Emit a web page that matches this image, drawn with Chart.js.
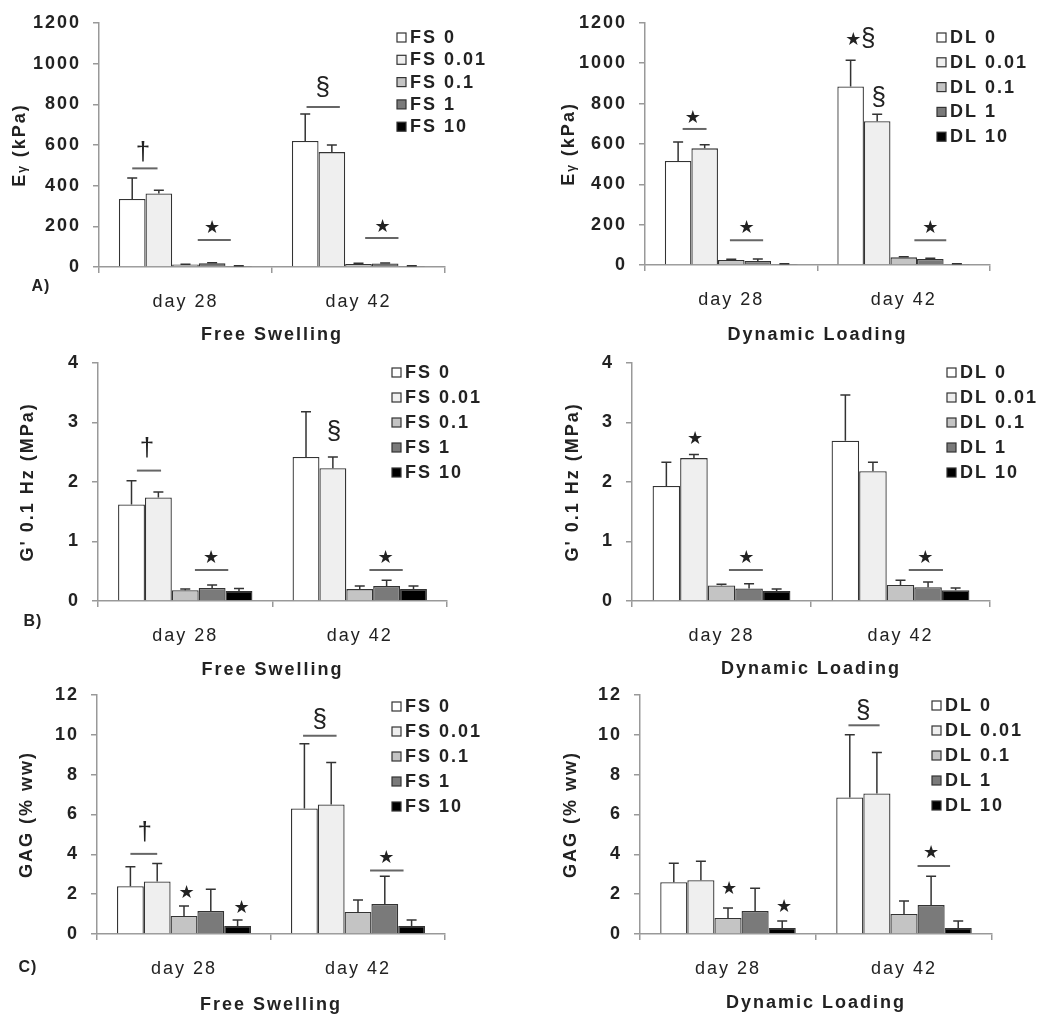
<!DOCTYPE html>
<html><head><meta charset="utf-8">
<script src="https://cdn.jsdelivr.net/npm/chart.js@4"></script>
<style>
html,body{margin:0;padding:0;background:#fff;}
#wrap{position:relative;width:1044px;height:1026px;overflow:hidden;background:#fff;}
canvas{position:absolute;}
</style></head><body><div id="wrap"></div>
<script>
// ---------- data ----------
const categories = ['day 28', 'day 42'];
const fsLabels = ['FS 0', 'FS 0.01', 'FS 0.1', 'FS 1', 'FS 10'];
const dlLabels = ['DL 0', 'DL 0.01', 'DL 0.1', 'DL 1', 'DL 10'];
const seriesColors = ['#ffffff', '#efefef', '#c4c4c4', '#7a7a7a', '#000000'];

// A) E_Y (kPa), per series [day 28, day 42]
const eyFsMean = [[335, 620], [362, 565], [12, 15], [18, 17], [5, 5]];
const eyFsErr  = [[103, 132], [16, 35], [2, 3], [3, 3], [1, 1]];
const eyDlMean = [[515, 885], [578, 712], [25, 38], [20, 30], [5, 5]];
const eyDlErr  = [[95, 130], [18, 35], [3, 3], [10, 3], [1, 1]];
const eyTicks = {min: 0, max: 1200, step: 200};

// B) G' 0.1 Hz (MPa)
const gFsMean = [[1.62, 2.42], [1.74, 2.23], [0.18, 0.20], [0.22, 0.25], [0.17, 0.20]];
const gFsErr  = [[0.40, 0.76], [0.09, 0.19], [0.02, 0.05], [0.05, 0.10], [0.04, 0.05]];
const gDlMean = [[1.93, 2.69], [2.40, 2.18], [0.26, 0.27], [0.21, 0.23], [0.17, 0.18]];
const gDlErr  = [[0.40, 0.77], [0.06, 0.15], [0.02, 0.08], [0.08, 0.09], [0.03, 0.04]];
const gTicks = {min: 0, max: 4, step: 1};

// C) GAG (% ww)
const gagFsMean = [[2.4, 6.3], [2.64, 6.5], [0.9, 1.1], [1.15, 1.5], [0.4, 0.4]];
const gagFsErr  = [[0.98, 3.25], [0.9, 2.1], [0.5, 0.6], [1.1, 1.4], [0.3, 0.3]];
const gagDlMean = [[2.6, 6.85], [2.7, 7.05], [0.8, 1.0], [1.15, 1.45], [0.3, 0.3]];
const gagDlErr  = [[0.95, 3.15], [0.95, 2.05], [0.5, 0.65], [1.15, 1.45], [0.35, 0.35]];
const gagTicks = {min: 0, max: 12, step: 2};

// significance marks: category, symbol, bar index position, symbol value, optional line [from, to, value]
const eyFsMarks = [
  {cat: 0, sym: '†', at: 0.4, y: 561, line: [0, 0.95, 485]},
  {cat: 0, sym: '★', at: 3.0, y: 192, line: [2.46, 3.7, 133]},
  {cat: 1, sym: '§', at: 0.66, y: 880, line: [0.05, 1.3, 787]},
  {cat: 1, sym: '★', at: 2.9, y: 197, line: [2.25, 3.5, 143]}
];
const eyDlMarks = [
  {cat: 0, sym: '★', at: 0.55, y: 728, line: [0.17, 1.07, 674]},
  {cat: 0, sym: '★', at: 2.58, y: 182, line: [1.95, 3.2, 123]},
  {cat: 1, sym: '★', at: 0.1, y: 1112, line: null},
  {cat: 1, sym: '§', at: 0.66, y: 1121, line: null},
  {cat: 1, sym: '§', at: 1.06, y: 826, line: null},
  {cat: 1, sym: '★', at: 3.0, y: 182, line: [2.4, 3.6, 123]}
];
const gFsMarks = [
  {cat: 0, sym: '†', at: 0.58, y: 2.55, line: [0.2, 1.1, 2.19]},
  {cat: 0, sym: '★', at: 2.96, y: 0.72, line: [2.36, 3.6, 0.52]},
  {cat: 1, sym: '§', at: 1.04, y: 2.84, line: null},
  {cat: 1, sym: '★', at: 2.96, y: 0.72, line: [2.36, 3.6, 0.52]}
];
const gDlMarks = [
  {cat: 0, sym: '★', at: 1.04, y: 2.71, line: null},
  {cat: 0, sym: '★', at: 2.9, y: 0.72, line: [2.27, 3.5, 0.52]},
  {cat: 1, sym: '★', at: 2.9, y: 0.72, line: [2.3, 3.54, 0.52]}
];
const gagFsMarks = [
  {cat: 0, sym: '†', at: 0.53, y: 5.09, line: [0, 1, 4.02]},
  {cat: 0, sym: '★', at: 2.1, y: 2.06, line: null},
  {cat: 0, sym: '★', at: 4.15, y: 1.27, line: null},
  {cat: 1, sym: '§', at: 0.57, y: 10.72, line: [-0.05, 1.2, 9.94]},
  {cat: 1, sym: '★', at: 3.06, y: 3.82, line: [2.45, 3.7, 3.18]}
];
const gagDlMarks = [
  {cat: 0, sym: '★', at: 2.04, y: 2.22, line: null},
  {cat: 0, sym: '★', at: 4.07, y: 1.33, line: null},
  {cat: 1, sym: '§', at: 0.5, y: 11.2, line: [-0.05, 1.1, 10.47]},
  {cat: 1, sym: '★', at: 3.0, y: 4.05, line: [2.5, 3.7, 3.41]}
];

// ---------- layout (page pixels) ----------
const FONT = "'Liberation Sans', Arial, sans-serif";
const panels = [
  {canvas: {x: 0, y: 0, w: 520, h: 350}, area: {l: 99, t: 23, r: 445, b: 267}, yTitleX: 20, xTitleY: 335,
   legend: {x: 397, y: 38, step: 22.3}, letter: {text: 'A)', x: 41, y: 287},
   labels: fsLabels, mean: eyFsMean, err: eyFsErr, ticks: eyTicks, marks: eyFsMarks, yTitle: 'Eᵧ (kPa)', xTitle: 'Free Swelling'},
  {canvas: {x: 520, y: 0, w: 524, h: 350}, area: {l: 645, t: 21, r: 990, b: 265}, yTitleX: 569, xTitleY: 335,
   legend: {x: 937, y: 38, step: 24.8}, letter: null,
   labels: dlLabels, mean: eyDlMean, err: eyDlErr, ticks: eyTicks, marks: eyDlMarks, yTitle: 'Eᵧ (kPa)', xTitle: 'Dynamic Loading'},
  {canvas: {x: 0, y: 340, w: 520, h: 345}, area: {l: 98, t: 356, r: 447, b: 601}, yTitleX: 28, xTitleY: 670,
   legend: {x: 392, y: 373, step: 25}, letter: {text: 'B)', x: 33, y: 622},
   labels: fsLabels, mean: gFsMean, err: gFsErr, ticks: gTicks, marks: gFsMarks, yTitle: "G' 0.1 Hz (MPa)", xTitle: 'Free Swelling'},
  {canvas: {x: 520, y: 340, w: 524, h: 345}, area: {l: 632, t: 356, r: 990, b: 601}, yTitleX: 573, xTitleY: 669,
   legend: {x: 947, y: 373, step: 25}, letter: null,
   labels: dlLabels, mean: gDlMean, err: gDlErr, ticks: gTicks, marks: gDlMarks, yTitle: "G' 0.1 Hz (MPa)", xTitle: 'Dynamic Loading'},
  {canvas: {x: 0, y: 672, w: 520, h: 354}, area: {l: 97, t: 689, r: 445, b: 934}, yTitleX: 27, xTitleY: 1005,
   legend: {x: 392, y: 707, step: 25}, letter: {text: 'C)', x: 28, y: 968},
   labels: fsLabels, mean: gagFsMean, err: gagFsErr, ticks: gagTicks, marks: gagFsMarks, yTitle: 'GAG (% ww)', xTitle: 'Free Swelling'},
  {canvas: {x: 520, y: 672, w: 524, h: 354}, area: {l: 640, t: 691, r: 992, b: 934}, yTitleX: 571, xTitleY: 1003,
   legend: {x: 932, y: 706, step: 25}, letter: null,
   labels: dlLabels, mean: gagDlMean, err: gagDlErr, ticks: gagTicks, marks: gagDlMarks, yTitle: 'GAG (% ww)', xTitle: 'Dynamic Loading'}
];

Chart.defaults.font.family = FONT;
Chart.defaults.color = '#222';

function barX(chart, cat, idx) {
  const x0 = chart.getDatasetMeta(0).data[cat].x;
  const x1 = chart.getDatasetMeta(1).data[cat].x;
  return x0 + idx * (x1 - x0);
}

const panelPlugin = {
  id: 'panelPlugin',
  beforeDraw(chart) { chart.ctx.letterSpacing = '2px'; },
  afterDatasetsDraw(chart) {
    const p = chart.canvas.__spec;
    const ctx = chart.ctx, ys = chart.scales.y;
    ctx.save();
    ctx.strokeStyle = '#333';
    ctx.lineWidth = 1.5;
    p.mean.forEach((vals, i) => {
      const meta = chart.getDatasetMeta(i);
      vals.forEach((v, j) => {
        const el = meta.data[j];
        const yTop = ys.getPixelForValue(v + p.err[i][j]);
        ctx.beginPath();
        ctx.moveTo(el.x, el.y);
        ctx.lineTo(el.x, yTop);
        ctx.moveTo(el.x - 5, yTop);
        ctx.lineTo(el.x + 5, yTop);
        ctx.stroke();
      });
    });
    ctx.restore();
  },
  afterDraw(chart) {
    const p = chart.canvas.__spec;
    const ctx = chart.ctx, ys = chart.scales.y;
    const ox = p.canvas.x, oy = p.canvas.y;
    ctx.save();
    ctx.letterSpacing = '0px';
    // significance marks
    p.marks.forEach(m => {
      if (m.line) {
        const y = ys.getPixelForValue(m.line[2]);
        ctx.strokeStyle = '#666';
        ctx.lineWidth = 2;
        ctx.beginPath();
        ctx.moveTo(barX(chart, m.cat, m.line[0]), y);
        ctx.lineTo(barX(chart, m.cat, m.line[1]), y);
        ctx.stroke();
      }
      ctx.fillStyle = '#222';
      ctx.textAlign = 'center';
      ctx.textBaseline = 'middle';
      ctx.font = m.sym === '★' ? "18px 'DejaVu Sans'" : "26px " + FONT;
      ctx.fillText(m.sym, barX(chart, m.cat, m.at), ys.getPixelForValue(m.y));
    });
    // legend
    ctx.letterSpacing = '2px';
    const lg = p.legend;
    p.labels.forEach((lab, i) => {
      const cy = lg.y + i * lg.step - oy;
      const bx = lg.x - ox;
      ctx.fillStyle = seriesColors[i];
      ctx.fillRect(bx, cy - 5, 9, 9);
      ctx.strokeStyle = '#333';
      ctx.lineWidth = 1.2;
      ctx.strokeRect(bx, cy - 5, 9, 9);
      ctx.fillStyle = '#222';
      ctx.textAlign = 'left';
      ctx.textBaseline = 'middle';
      ctx.font = 'bold 18px ' + FONT;
      ctx.fillText(lab, bx + 13, cy);
    });
    // panel letter
    if (p.letter) {
      ctx.letterSpacing = '1px';
      ctx.font = 'bold 16px ' + FONT;
      ctx.textAlign = 'center';
      ctx.textBaseline = 'middle';
      ctx.fillStyle = '#222';
      ctx.fillText(p.letter.text, p.letter.x - ox, p.letter.y - oy);
    }
    ctx.restore();
  }
};

const wrap = document.getElementById('wrap');
const LH = 18 * 1.2;
panels.forEach(p => {
  const c = p.canvas, a = p.area;
  const cv = document.createElement('canvas');
  cv.width = c.w; cv.height = c.h;
  cv.style.left = c.x + 'px'; cv.style.top = c.y + 'px';
  cv.style.width = c.w + 'px'; cv.style.height = c.h + 'px';
  cv.__spec = p;
  wrap.appendChild(cv);
  const padLeft = p.yTitleX - LH / 2 - c.x;
  const padBottom = (c.y + c.h) - (p.xTitleY + LH / 2);
  const yW = a.l - c.x - padLeft;
  const xH = (p.xTitleY + LH / 2) - a.b;
  new Chart(cv, {
    type: 'bar',
    data: {
      labels: categories,
      datasets: p.labels.map((lab, i) => ({
        label: lab,
        data: p.mean[i],
        backgroundColor: seriesColors[i],
        borderColor: '#333',
        borderWidth: 1.3,
        categoryPercentage: 0.77,
        barPercentage: 1.0
      }))
    },
    options: {
      responsive: false,
      animation: false,
      devicePixelRatio: 1,
      layout: {padding: {left: padLeft, top: a.t - c.y, right: c.x + c.w - a.r, bottom: padBottom}},
      plugins: {legend: {display: false}, tooltip: {enabled: false}},
      scales: {
        x: {
          offset: true,
          grid: {offset: true, drawOnChartArea: false, drawTicks: true, tickLength: 6, color: '#999', lineWidth: 1.5},
          border: {display: true, color: '#999', width: 1.5},
          ticks: {font: {size: 18}, color: '#222', padding: 18, maxRotation: 0},
          title: {display: true, text: p.xTitle, font: {size: 18, weight: 'bold'}, color: '#222', padding: 0},
          afterFit(s) { s.height = xH; }
        },
        y: {
          min: p.ticks.min, max: p.ticks.max,
          ticks: {stepSize: p.ticks.step, font: {size: 18, weight: 'bold'}, color: '#222', padding: 12,
                  callback: v => String(v)},
          grid: {drawOnChartArea: false, drawTicks: true, tickLength: 6, color: '#999', lineWidth: 1.5},
          border: {display: true, color: '#999', width: 1.5},
          title: {display: true, text: p.yTitle, font: {size: 18, weight: 'bold'}, color: '#222', padding: 0},
          afterFit(s) { s.width = yW; }
        }
      }
    },
    plugins: [panelPlugin]
  });
});
</script>
</body></html>
